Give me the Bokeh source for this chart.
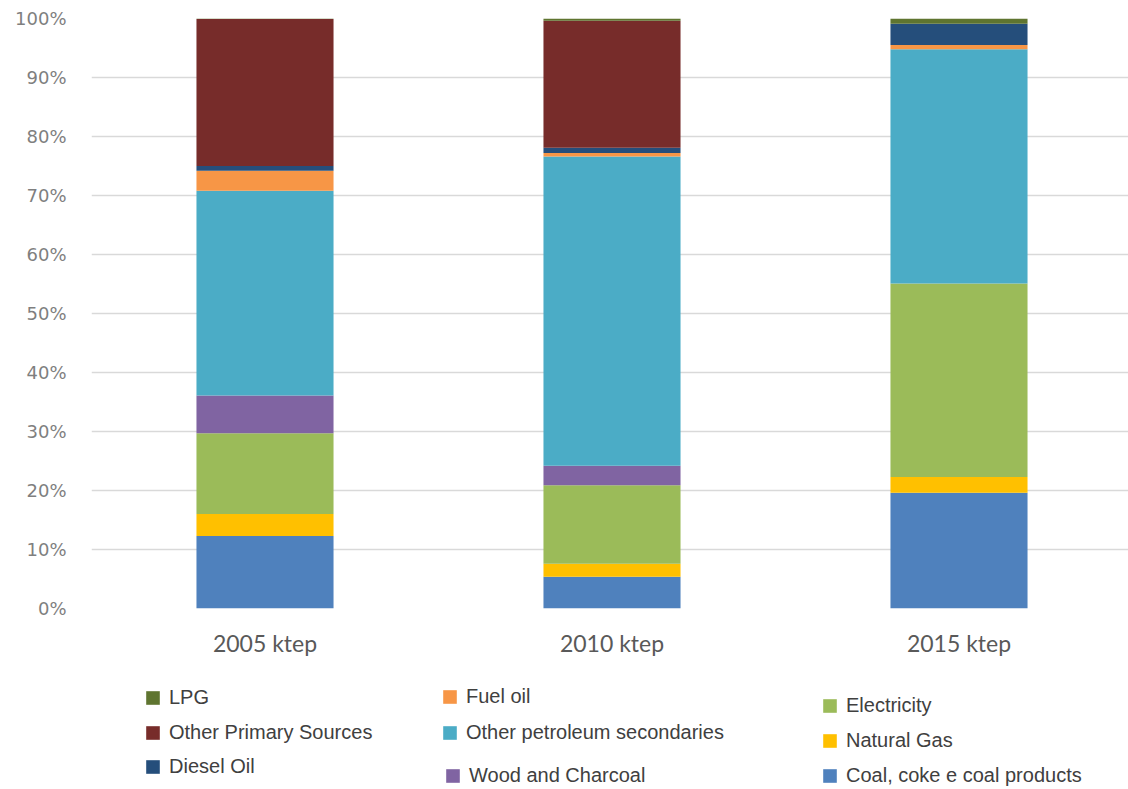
from bokeh.plotting import figure
from bokeh.layouts import column
from bokeh.models import (Range1d, FixedTicker, NumeralTickFormatter, Legend,
                          LegendItem, ColumnDataSource)
from bokeh.embed import file_html
from bokeh.resources import INLINE

# ---- data (percent shares) ----
categories = ["2005 ktep", "2010 ktep", "2015 ktep"]
coal = [12.3, 5.4, 19.6]
natural_gas = [3.7, 2.2, 2.7]
electricity = [13.7, 13.3, 32.8]
wood = [6.4, 3.3, 0.0]
other_petroleum = [34.7, 52.4, 39.7]
fuel_oil = [3.4, 0.6, 0.7]
diesel = [0.8, 0.9, 3.6]
other_primary = [24.9, 21.5, 0.0]
lpg = [0.1, 0.4, 0.9]

series_labels = ["Coal, coke e coal products", "Natural Gas", "Electricity",
                 "Wood and Charcoal", "Other petroleum secondaries", "Fuel oil",
                 "Diesel Oil", "Other Primary Sources", "LPG"]
series_values = [coal, natural_gas, electricity, wood, other_petroleum,
                 fuel_oil, diesel, other_primary, lpg]
y_ticks = [0.0, 0.1, 0.2, 0.3, 0.4, 0.5, 0.6, 0.7, 0.8, 0.9, 1.0]

colors = ["#4F81BD", "#FFC000", "#9BBB59", "#8064A2", "#4BACC6",
          "#F79646", "#254E7B", "#772C2A", "#5F7530"]

keys = ["s%d" % i for i in range(len(series_labels))]
xs = list(range(1, len(categories) + 1))
data = {"x": xs}
for k, vals in zip(keys, series_values):
    data[k] = [v / 100.0 for v in vals]
source = ColumnDataSource(data)

# ---- chart figure ----
W = 1128
H1 = 670
left, top = 91, 18
frame_h = 590
bottom = H1 - top - frame_h
unit_px = 347.0
frame_w = W - left
p = figure(width=W, height=H1,
           x_range=Range1d(0.5, 0.5 + frame_w / unit_px),
           y_range=Range1d(0, 1),
           output_backend="svg", toolbar_location=None,
           min_border_left=left, min_border_right=0,
           min_border_top=top, min_border_bottom=bottom)
p.outline_line_color = None
p.background_fill_color = "white"
p.border_fill_color = "white"

renderers = p.vbar_stack(keys, x="x", width=0.395, fill_color=colors,
                         line_color=None, source=source)

p.xaxis.ticker = FixedTicker(ticks=xs)
p.xaxis.major_label_overrides = {x: c for x, c in zip(xs, categories)}
p.xaxis.axis_line_color = None
p.xaxis.major_tick_line_color = None
p.xaxis.minor_tick_line_color = None
p.xaxis.major_label_text_font = "Lato"
p.xaxis.major_label_text_font_size = "23px"
p.xaxis.major_label_text_color = "#595959"
p.xaxis.major_label_standoff = 14

p.yaxis.ticker = FixedTicker(ticks=y_ticks)
p.yaxis.formatter = NumeralTickFormatter(format="0%")
p.yaxis.axis_line_color = None
p.yaxis.major_tick_line_color = None
p.yaxis.minor_tick_line_color = None
p.yaxis.major_label_text_font = "DejaVu Sans"
p.yaxis.major_label_text_font_size = "18px"
p.yaxis.major_label_text_color = "#7F7F7F"
p.yaxis.major_label_standoff = 19

p.xgrid.grid_line_color = None
p.ygrid.grid_line_color = "#D9D9D9"
p.ygrid.grid_line_width = 1.5

# ---- legend figure (below the chart) ----
# The column layout aligns its frame with the chart's frame (x = left);
# its stacked bars lie far outside its view and only feed the legend swatches.
H2 = 118
q = figure(width=W, height=H2, x_range=Range1d(-20, -19), y_range=Range1d(20, 21),
           output_backend="svg", toolbar_location=None,
           x_axis_location=None, y_axis_location=None,
           min_border=0, min_border_left=0, min_border_right=0,
           min_border_top=0, min_border_bottom=0)
q.outline_line_color = None
q.grid.visible = False
q.background_fill_color = "white"
q.border_fill_color = "white"

swatches = q.vbar_stack(keys, x="x", width=0.395, fill_color=colors,
                        line_color=None, source=source)

item_h = 22
legend_layout = [  # (series index, x of swatch, y of item centre) in page px
    (8, 146, 698), (7, 146, 733), (6, 146, 767),
    (5, 443, 697), (4, 443, 733), (3, 446, 776),
    (2, 823, 706), (1, 823, 741), (0, 823, 776),
]
for idx, px, pc in legend_layout:
    lg = Legend(items=[LegendItem(label=series_labels[idx], renderers=[swatches[idx]])],
                location=(px - 2 - left, (H1 + H2) - pc - item_h / 2.0),
                orientation="vertical")
    lg.border_line_color = None
    lg.background_fill_alpha = 0
    lg.padding = 0
    lg.margin = 0
    lg.spacing = 0
    lg.glyph_width = 17
    lg.glyph_height = 17
    lg.label_height = item_h
    lg.label_standoff = 8
    lg.label_text_font = "Liberation Sans"
    lg.label_text_font_size = "20px"
    lg.label_text_color = "#404040"
    q.add_layout(lg, "center")

layout = column(p, q, spacing=0)
open("out.html", "w").write(file_html(layout, INLINE))
